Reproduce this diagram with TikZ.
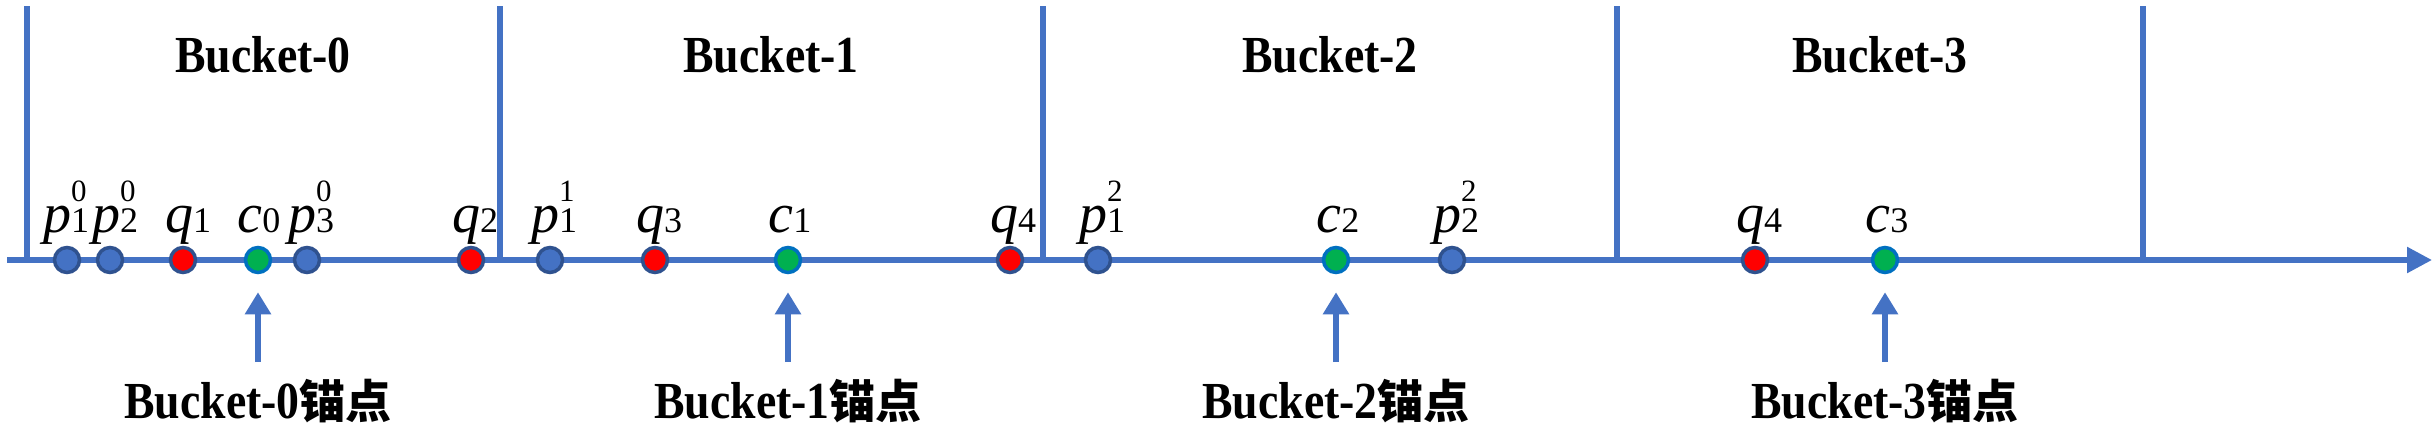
\documentclass[tikz,border=0pt]{standalone}
\usepackage{fontspec}
\setmainfont{Liberation Serif}
\newfontfamily\tnr{Liberation Serif}[FakeStretch=0.88]
\newfontfamily\tnrm{Liberation Serif}
\newfontfamily\cjk{Noto Sans CJK SC}
\usetikzlibrary{arrows.meta}
\definecolor{axisblue}{HTML}{4472C4}
\definecolor{ptborder}{HTML}{2F528F}
\definecolor{ptred}{HTML}{FF0000}
\definecolor{ptgreen}{HTML}{00B050}
\definecolor{grborder}{HTML}{0070C0}
\newcommand\ptlbl[3]{\textit{#1}\rlap{\raisebox{31pt}{\fontsize{31}{31}\selectfont #3}}{\fontsize{36}{36}\selectfont #2}}
\newcommand\cjkpart[1]{{\cjk\bfseries\fontsize{46}{46}\selectfont #1}}
\tikzset{
  axisline/.style={draw=axisblue, line width=5.5pt},
  divider/.style={draw=axisblue, line width=5.5pt},
  anchorarrow/.style={draw=axisblue, line width=6pt, -{Triangle[length=22pt,width=25pt]}, shorten >=18pt},
  ptbase/.style={circle, minimum size=25pt, inner sep=0pt, line width=3.5pt},
  bluept/.style={ptbase, fill=axisblue, draw=ptborder},
  redpt/.style={ptbase, fill=ptred, draw=ptborder},
  greenpt/.style={ptbase, fill=ptgreen, draw=grborder},
  ptlabel/.style={anchor=base, inner sep=0pt, font=\tnrm\fontsize{56}{56}\selectfont},
  bucketlabel/.style={anchor=base, inner sep=0pt, font=\tnr\bfseries\fontsize{52}{52}\selectfont},
}
\begin{document}
\begin{tikzpicture}[x=1pt,y=-1pt]
\useasboundingbox (0,0) rectangle (2434,426);
% axis
\coordinate (axL) at (7,260);
\coordinate (axR) at (2432,260);
\draw[axisline, -{Triangle[length=25pt,width=25pt]}] (axL) -- (axR);
% dividers
\foreach \i/\x in {0/27,1/500,2/1043,3/1617,4/2143}{
  \coordinate (dt\i) at (\x,6);
  \coordinate (db\i) at (\x,260);
  \draw[divider] (dt\i) -- (db\i);
}
% bucket titles
\node[bucketlabel] (b0) at (263,72) {Bucket-0};
\node[bucketlabel] (b1) at (771,72) {Bucket-1};
\node[bucketlabel] (b2) at (1330,72) {Bucket-2};
\node[bucketlabel] (b3) at (1880,72) {Bucket-3};
% points
\node[bluept]  (p10) at (67,260) {};
\node[bluept]  (p20) at (110,260) {};
\node[redpt]   (q1)  at (183,260) {};
\node[greenpt] (c0)  at (258,260) {};
\node[bluept]  (p30) at (307,260) {};
\node[redpt]   (q2)  at (471,260) {};
\node[bluept]  (p11) at (550,260) {};
\node[redpt]   (q3)  at (655,260) {};
\node[greenpt] (c1)  at (788,260) {};
\node[redpt]   (q4)  at (1010,260) {};
\node[bluept]  (p12) at (1098,260) {};
\node[greenpt] (c2)  at (1336,260) {};
\node[bluept]  (p22) at (1452,260) {};
\node[redpt]   (q4b) at (1755,260) {};
\node[greenpt] (c3)  at (1885,260) {};
% point labels
\node[ptlabel] (lp10) at (66,232) {\ptlbl{p}{1}{0}};
\node[ptlabel] (lp20) at (115,232) {\ptlbl{p}{2}{0}};
\node[ptlabel] (lq1)  at (188,232) {\ptlbl{q}{1}{}};
\node[ptlabel] (lc0)  at (259,232) {\ptlbl{c}{0}{}};
\node[ptlabel] (lp30) at (311,232) {\ptlbl{p}{3}{0}};
\node[ptlabel] (lq2)  at (475,232) {\ptlbl{q}{2}{}};
\node[ptlabel] (lp11) at (554,232) {\ptlbl{p}{1}{1}};
\node[ptlabel] (lq3)  at (659,232) {\ptlbl{q}{3}{}};
\node[ptlabel] (lc1)  at (790,232) {\ptlbl{c}{1}{}};
\node[ptlabel] (lq4)  at (1013,232) {\ptlbl{q}{4}{}};
\node[ptlabel] (lp12) at (1102,232) {\ptlbl{p}{1}{2}};
\node[ptlabel] (lc2)  at (1338,232) {\ptlbl{c}{2}{}};
\node[ptlabel] (lp22) at (1456,232) {\ptlbl{p}{2}{2}};
\node[ptlabel] (lq4b) at (1759,232) {\ptlbl{q}{4}{}};
\node[ptlabel] (lc3)  at (1887,232) {\ptlbl{c}{3}{}};
% anchor labels
\node[bucketlabel] (a0) at (258,418) {Bucket-0\cjkpart{锚点}};
\node[bucketlabel] (a1) at (788,418) {Bucket-1\cjkpart{锚点}};
\node[bucketlabel] (a2) at (1336,418) {Bucket-2\cjkpart{锚点}};
\node[bucketlabel] (a3) at (1885,418) {Bucket-3\cjkpart{锚点}};
% anchor arrows
\foreach \i/\x in {0/258,1/788,2/1336,3/1885}{
  \coordinate (as\i) at (\x,362);
  \draw[anchorarrow] (as\i) -- (c\i);
}
\end{tikzpicture}
\end{document}
